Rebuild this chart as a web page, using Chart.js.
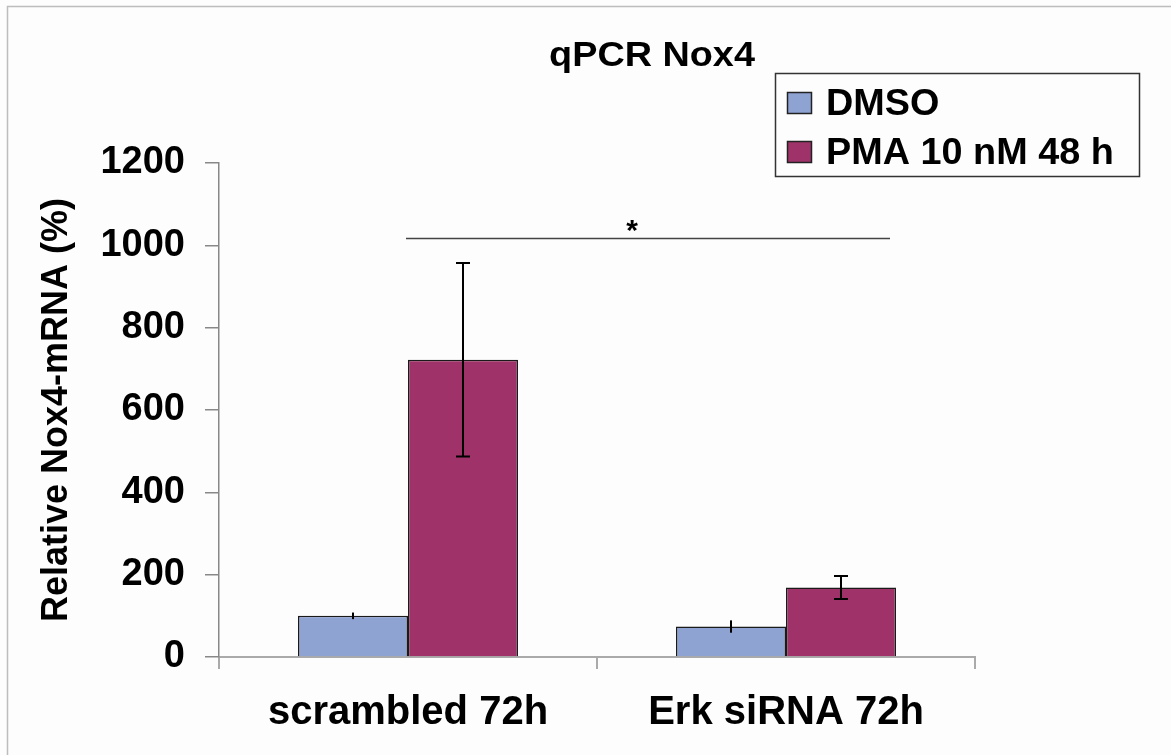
<!DOCTYPE html>
<html>
<head>
<meta charset="utf-8">
<script src="https://cdn.jsdelivr.net/npm/chart.js"></script>
<style>
  html, body { margin: 0; padding: 0; background: #fff; }
  canvas { display: block; }
</style>
</head>
<body>
<canvas id="chart" width="1171" height="755"></canvas>
<script>
// data
const categories = ["scrambled 72h", "Erk siRNA 72h"];
const seriesNames = ["DMSO", "PMA 10 nM 48 h"];
const dmsoValues = [100, 74];
const dmsoErrors = [8, 15];
const pmaValues = [722, 169];
const pmaErrors = [235, 28];
const yTicks = [0, 200, 400, 600, 800, 1000, 1200];
const sigLevel = 1018;
const chartTitle = "qPCR Nox4";
const yTitle = "Relative Nox4-mRNA (%)";

const FONT = '"Liberation Sans", Arial, sans-serif';
const colors = ["#8FA3D3", "#9F3369"];
const errors = [dmsoErrors, pmaErrors];
const capped = [false, true]; // the DMSO bars show no caps in the original

// white background + the thin frame at top/left
const framePlugin = {
  id: "frame",
  beforeDraw(chart) {
    const ctx = chart.ctx;
    ctx.save();
    ctx.fillStyle = "#fdfdfd";
    ctx.fillRect(0, 0, chart.width, chart.height);
    ctx.strokeStyle = "#bdbdbd";
    ctx.lineWidth = 1.5;
    ctx.beginPath();
    ctx.moveTo(7.5, chart.height);
    ctx.lineTo(7.5, 6.5);
    ctx.lineTo(chart.width, 6.5);
    ctx.stroke();
    ctx.restore();
  }
};

// error bars from the value arrays
const errorBarPlugin = {
  id: "errorBars",
  afterDatasetsDraw(chart) {
    const ctx = chart.ctx;
    const y = chart.scales.y;
    ctx.save();
    ctx.strokeStyle = "#000";
    ctx.lineWidth = 2;
    chart.data.datasets.forEach((ds, i) => {
      chart.getDatasetMeta(i).data.forEach((bar, j) => {
        const v = ds.data[j], e = errors[i][j];
        const top = y.getPixelForValue(v + e);
        const bot = y.getPixelForValue(v - e);
        ctx.beginPath();
        ctx.moveTo(bar.x, top); ctx.lineTo(bar.x, bot);
        if (capped[i]) {
          ctx.moveTo(bar.x - 7, top); ctx.lineTo(bar.x + 7, top);
          ctx.moveTo(bar.x - 7, bot); ctx.lineTo(bar.x + 7, bot);
        }
        ctx.stroke();
      });
    });
    ctx.restore();
  }
};

// title, boxed legend and the significance line
function stretchedText(ctx, text, x, y, sx) {
  ctx.save();
  ctx.translate(x, y);
  ctx.scale(sx, 1);
  ctx.fillText(text, 0, 0);
  ctx.restore();
}

const annotationPlugin = {
  id: "annotations",
  afterDraw(chart) {
    const ctx = chart.ctx;
    const x = chart.scales.x, y = chart.scales.y;
    ctx.save();

    // title
    ctx.fillStyle = "#000";
    ctx.font = `bold 35px ${FONT}`;
    ctx.textBaseline = "alphabetic";
    ctx.textAlign = "center";
    stretchedText(ctx, chartTitle, 652, 66, 1.08);

    // legend box
    ctx.strokeStyle = "#333";
    ctx.lineWidth = 1.5;
    ctx.strokeRect(775.5, 73.5, 364, 103);
    ctx.font = `bold 36px ${FONT}`;
    ctx.textAlign = "left";
    const rows = [115, 164];
    seriesNames.forEach((name, i) => {
      ctx.fillStyle = colors[i];
      ctx.fillRect(787, rows[i] - 23, 25, 22);
      ctx.strokeStyle = "#222";
      ctx.lineWidth = 1.5;
      ctx.strokeRect(787.5, rows[i] - 22.5, 24, 21);
      ctx.fillStyle = "#000";
      stretchedText(ctx, name, 826, rows[i], 1.05);
    });

    // significance line with asterisk
    const pmaBars = chart.getDatasetMeta(1).data;
    const x0 = x.getPixelForValue(0) - 2;
    const last = pmaBars[pmaBars.length - 1];
    const x1 = last.x + last.width / 2 - 6;
    const ly = Math.round(y.getPixelForValue(sigLevel)) + 0.5;
    ctx.strokeStyle = "#444";
    ctx.lineWidth = 1.5;
    ctx.beginPath();
    ctx.moveTo(x0, ly); ctx.lineTo(x1, ly);
    ctx.stroke();
    ctx.fillStyle = "#000";
    ctx.font = `bold 30px ${FONT}`;
    ctx.textAlign = "center";
    ctx.fillText("*", (x0 + x1) / 2 - 16, ly + 1);

    ctx.restore();
  }
};

new Chart(document.getElementById("chart"), {
  type: "bar",
  data: {
    labels: categories,
    datasets: [
      { label: seriesNames[0], data: dmsoValues, backgroundColor: colors[0] },
      { label: seriesNames[1], data: pmaValues, backgroundColor: colors[1] }
    ]
  },
  options: {
    responsive: false,
    animation: false,
    devicePixelRatio: 1,
    layout: { padding: { left: 0, top: 163, right: 196, bottom: 0 } },
    datasets: {
      bar: {
        categoryPercentage: 0.582,
        barPercentage: 1.0,
        borderColor: "#1a1a1a",
        borderWidth: 1.5
      }
    },
    plugins: {
      legend: { display: false },
      title: { display: false },
      tooltip: { enabled: false }
    },
    scales: {
      x: {
        offset: true,
        afterFit(scale) { scale.height = 98; },
        grid: {
          offset: true,
          drawOnChartArea: false,
          drawTicks: true,
          tickLength: 12,
          color: "#aaa",
          lineWidth: 2
        },
        border: { display: true, color: "#aaa", width: 2 },
        ticks: {
          color: "#000",
          padding: 20,
          font: { family: FONT, size: 40, weight: "bold" }
        }
      },
      y: {
        min: 0,
        max: 1200,
        afterFit(scale) { scale.width = 219; },
        afterBuildTicks(scale) { scale.ticks = yTicks.map(v => ({ value: v })); },
        grid: {
          drawOnChartArea: false,
          drawTicks: true,
          tickLength: 14,
          color: "#888",
          lineWidth: 1.5
        },
        border: { display: true, color: "#888", width: 1.5 },
        ticks: {
          color: "#000",
          padding: 20,
          font: { family: FONT, size: 38, weight: "bold" },
          callback: v => String(v)
        },
        title: {
          display: true,
          text: yTitle,
          color: "#000",
          padding: { top: 35, bottom: 0 },
          font: { family: FONT, size: 36, weight: "bold" }
        }
      }
    }
  },
  plugins: [framePlugin, errorBarPlugin, annotationPlugin]
});
</script>
</body>
</html>
